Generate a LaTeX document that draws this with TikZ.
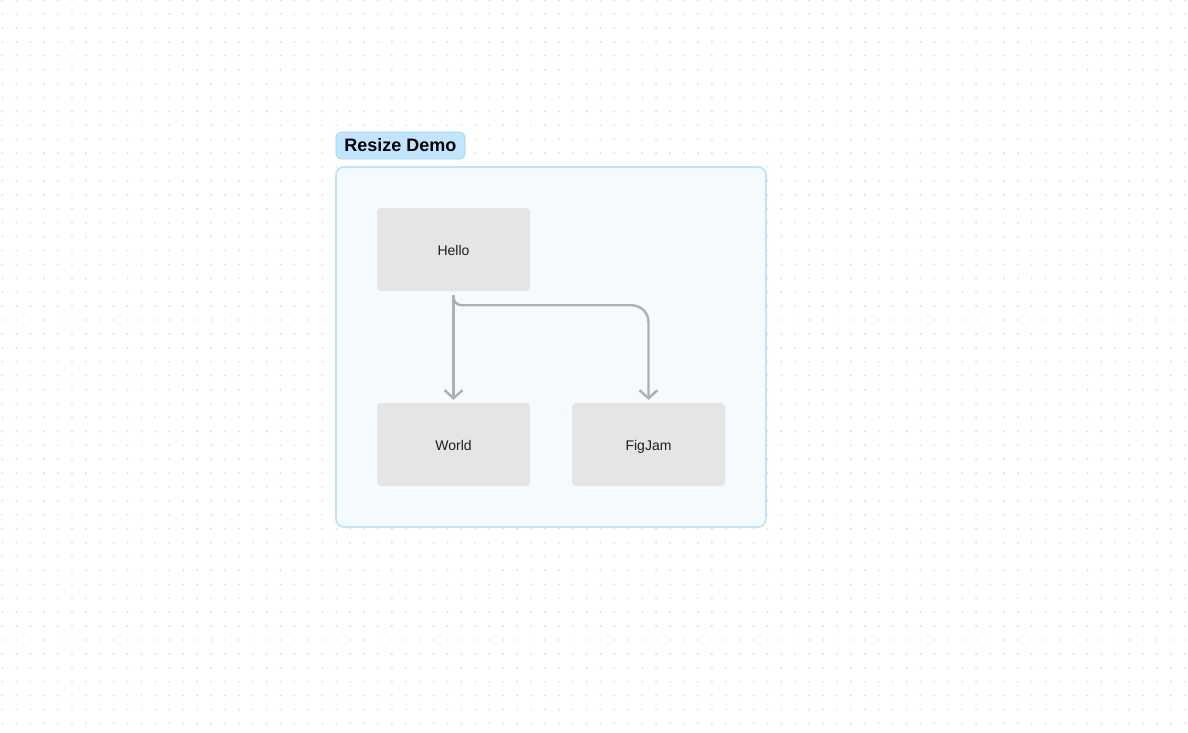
\documentclass[tikz,border=0pt]{standalone}
\usepackage{fontspec}
\setmainfont{Liberation Sans}
\usetikzlibrary{arrows.meta}
\definecolor{dotgray}{HTML}{DADADA}
\definecolor{framefill}{HTML}{F5FAFF}
\definecolor{frameline}{HTML}{BDE3FF}
\definecolor{tagfill}{HTML}{C2E5FF}
\definecolor{tagline}{HTML}{A3D2F5}
\definecolor{boxfill}{HTML}{E5E5E5}
\definecolor{linkgray}{HTML}{B0B0B0}
\definecolor{inkgray}{HTML}{1E1E1E}
\tikzset{
  card/.style={rectangle, rounded corners=4pt, fill=boxfill, minimum width=153pt, minimum height=83pt, inner sep=0pt, text height=12pt, text depth=0pt, text=inkgray, font=\fontsize{14}{16}\selectfont},
  link/.style={draw=linkgray, line width=2.4pt, -{Straight Barb[length=8pt,width=18pt]}},
  tag/.style={rectangle, rounded corners=6pt, fill=tagfill, draw=tagline, line width=0.8pt, minimum width=129pt, minimum height=27pt, inner sep=0pt, text=black, font=\fontsize{18}{20}\selectfont\bfseries}
}
\begin{document}
\begin{tikzpicture}[x=1pt,y=-1pt]
\useasboundingbox (0,0) rectangle (1188,732);
\fill[white] (0,0) rectangle (1188,732);
\foreach \j in {0,...,52} {\fill[dotgray] \foreach \i in {0,...,85} {(1.7+13.91*\i,-0.6+13.91*\j) rectangle ++(1.4,1.4)};}
\draw[frameline, fill=framefill, line width=1.6pt, rounded corners=8pt] (336,167) rectangle (766,527);
\node[tag] (title) at (400.5,145.5) {Resize Demo};
\node[card] (hello) at (453.5,249.5) {Hello};
\node[card] (world) at (453.5,444.5) {World};
\node[card] (figjam) at (648.5,444.5) {FigJam};
\draw[link] ([yshift=-4pt]hello.south) -- ([yshift=3pt]world.north);
\draw[link, rounded corners=8pt] ([yshift=-4pt]hello.south) -- ++(0,10) [rounded corners=17pt] -| ([yshift=3pt]figjam.north);
\end{tikzpicture}
\end{document}
